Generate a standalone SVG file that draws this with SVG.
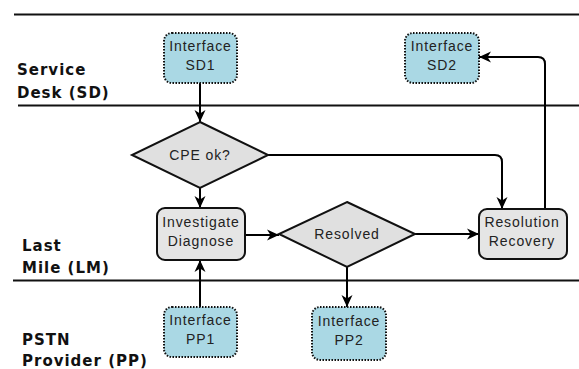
<svg xmlns="http://www.w3.org/2000/svg" width="579" height="369" viewBox="0 0 579 369">
  <defs>
    <marker id="arrow" markerUnits="userSpaceOnUse" markerWidth="14" markerHeight="12" refX="12" refY="6" orient="auto">
      <path d="M0,0.5 L12,6 L0,11.5 L3.5,6 Z" fill="#000"/>
    </marker>
    <style>
      .lane { stroke: #111; stroke-width: 2; }
      .lane-label { font-family: "DejaVu Sans", sans-serif; font-weight: bold; font-size: 15px; letter-spacing: 1px; fill: #111; }
      .iface { fill: #aad8e4; stroke: #111; stroke-width: 2; stroke-dasharray: 1.5 1.5; }
      .proc { fill: #e5e5e5; stroke: #111; stroke-width: 2; }
      .dec { fill: #e0e0e0; stroke: #111; stroke-width: 2; stroke-linejoin: miter; }
      .lbl { font-family: "Liberation Sans", Arial, sans-serif; font-size: 14px; letter-spacing: 0.9px; fill: #222; text-anchor: middle; }
      .conn path { fill: none; stroke: #000; stroke-width: 2; marker-end: url(#arrow); }
    </style>
  </defs>

  <rect width="579" height="369" fill="#fff"/>

  <!-- swimlane separators and lane titles -->
  <g id="lanes">
    <line class="lane" x1="14" y1="14.5" x2="579" y2="14.5"/>
    <line class="lane" x1="18" y1="105.5" x2="579" y2="105.5"/>
    <line class="lane" x1="13" y1="280.5" x2="579" y2="280.5"/>
    <text class="lane-label" x="17" y="75">Service</text>
    <text class="lane-label" x="17" y="98">Desk (SD)</text>
    <text class="lane-label" x="22" y="251">Last</text>
    <text class="lane-label" x="22" y="273">Mile (LM)</text>
    <text class="lane-label" x="22" y="345">PSTN</text>
    <text class="lane-label" x="22" y="366">Provider (PP)</text>
  </g>

  <!-- connectors -->
  <g id="connectors" class="conn">
    <path d="M200,83 V122"/>
    <path d="M200,188 V208"/>
    <path d="M200,307 V260"/>
    <path d="M245,235 H279"/>
    <path d="M415,234 H479"/>
    <path d="M347,267 V307"/>
    <path d="M268,155 H495 Q502,155 502,162 V209"/>
    <path d="M545,209 V64 Q545,57 538,57 H479"/>
  </g>

  <g id="interface-sd1">
    <rect class="iface" x="164" y="33" width="73" height="50" rx="8"/>
    <text class="lbl" x="200.5" y="51">Interface</text>
    <text class="lbl" x="200.5" y="70">SD1</text>
  </g>

  <g id="interface-sd2">
    <rect class="iface" x="405" y="33" width="74" height="50" rx="8"/>
    <text class="lbl" x="442" y="51">Interface</text>
    <text class="lbl" x="442" y="70">SD2</text>
  </g>

  <g id="cpe-ok">
    <polygon class="dec" points="200,122 268,155 200,188 132,155"/>
    <text class="lbl" x="200" y="160">CPE ok?</text>
  </g>

  <g id="investigate">
    <rect class="proc" x="157" y="208" width="88" height="52" rx="8"/>
    <text class="lbl" x="201" y="227">Investigate</text>
    <text class="lbl" x="201" y="246">Diagnose</text>
  </g>

  <g id="resolved">
    <polygon class="dec" points="347,202 415,234 347,267 279,234"/>
    <text class="lbl" x="347" y="239">Resolved</text>
  </g>

  <g id="resolution">
    <rect class="proc" x="479" y="209" width="88" height="50" rx="8"/>
    <text class="lbl" x="522" y="227">Resolution</text>
    <text class="lbl" x="522" y="246">Recovery</text>
  </g>

  <g id="interface-pp1">
    <rect class="iface" x="164" y="307" width="73" height="50" rx="8"/>
    <text class="lbl" x="200.5" y="325">Interface</text>
    <text class="lbl" x="200.5" y="344">PP1</text>
  </g>

  <g id="interface-pp2">
    <rect class="iface" x="312" y="307" width="74" height="53" rx="8"/>
    <text class="lbl" x="349" y="326">Interface</text>
    <text class="lbl" x="349" y="345">PP2</text>
  </g>
</svg>
